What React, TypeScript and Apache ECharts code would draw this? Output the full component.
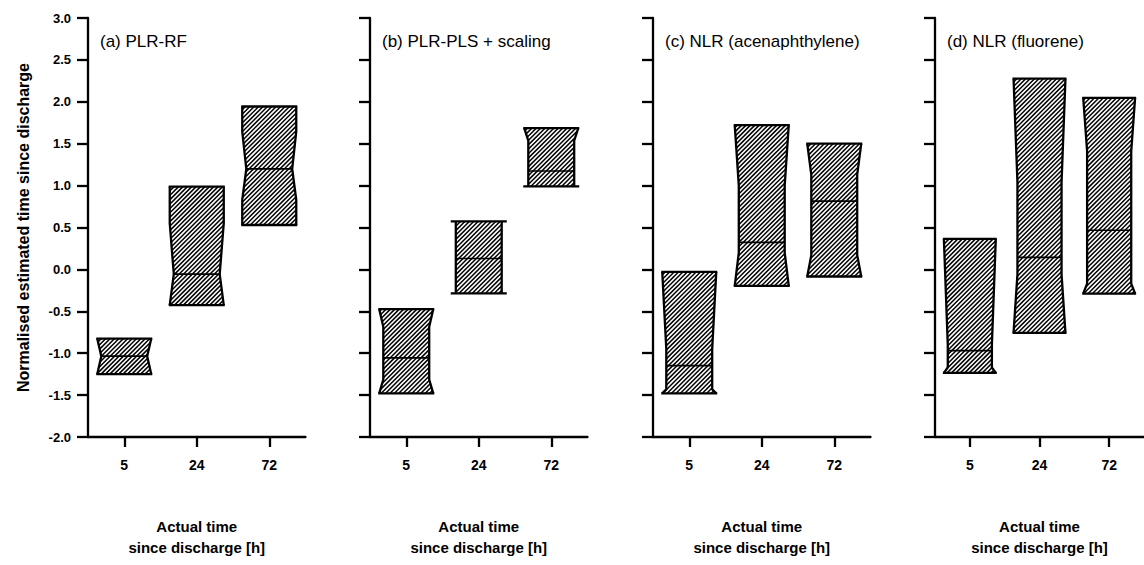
import React, { useEffect, useRef } from 'react';
import * as echarts from 'echarts';

// ---------------- data ----------------
const categories = ['5', '24', '72'];
const panelTitles = ['(a) PLR-RF', '(b) PLR-PLS + scaling', '(c) NLR (acenaphthylene)', '(d) NLR (fluorene)'];
const yAxisName = 'Normalised estimated time since discharge';
const xAxisName = 'Actual time\nsince discharge [h]';
const yMin = -2;
const yMax = 3;
const yInterval = 0.5;

// (a) PLR-RF
const upperA = [-0.825, 0.988, 1.944];
const lowerA = [-1.25, -0.426, 0.53];
const medianA = [-1.036, -0.056, 1.199];
const notchTopA = [-0.825, 0.55, 1.645];
const waistTopA = [-1.036, -0.056, 1.199];
const waistBottomA = [-1.036, -0.056, 1.199];
const notchBottomA = [-1.25, -0.426, 0.83];

// (b) PLR-PLS + scaling
const upperB = [-0.474, 0.574, 1.685];
const lowerB = [-1.48, -0.285, 0.99];
const medianB = [-1.056, 0.13, 1.174];
const notchTopB = [-0.474, 0.574, 1.685];
const waistTopB = [-0.685, 0.574, 1.537];
const waistBottomB = [-1.315, -0.285, 0.99];
const notchBottomB = [-1.48, -0.285, 0.99];

// (c) NLR (acenaphthylene)
const upperC = [-0.03, 1.722, 1.5];
const lowerC = [-1.48, -0.196, -0.085];
const medianC = [-1.148, 0.322, 0.815];
const notchTopC = [-0.03, 1.722, 1.5];
const waistTopC = [-0.95, 1.0, 1.13];
const waistBottomC = [-1.43, 0.2, 0.17];
const notchBottomC = [-1.48, -0.196, -0.085];

// (d) NLR (fluorene)
const upperD = [0.364, 2.276, 2.048];
const lowerD = [-1.235, -0.757, -0.29];
const medianD = [-0.97, 0.143, 0.467];
const notchTopD = [0.364, 2.276, 2.048];
const waistTopD = [-0.9, 1.04, 1.41];
const waistBottomD = [-1.17, -0.06, -0.17];
const notchBottomD = [-1.235, -0.757, -0.29];

const panels = [
  [upperA, lowerA, medianA, notchTopA, waistTopA, waistBottomA, notchBottomA],
  [upperB, lowerB, medianB, notchTopB, waistTopB, waistBottomB, notchBottomB],
  [upperC, lowerC, medianC, notchTopC, waistTopC, waistBottomC, notchBottomC],
  [upperD, lowerD, medianD, notchTopD, waistTopD, waistBottomD, notchBottomD],
];

// ---------------- layout / style ----------------
const AXIS_X = [88, 370, 653, 935];
const GRID_W = 217.5;
const GRID_TOP = 18;
const GRID_H = 419;
const BOX_FRAC = 0.745;
const WAIST_FRAC = 0.85;
const HATCH_STEP = 4.4;
const FONT = '"Liberation Sans", Arial, Helvetica, sans-serif';

function hatchSegments(poly: number[][], step: number) {
  let minC = Infinity;
  let maxC = -Infinity;
  for (const [x, y] of poly) {
    const c = x + y;
    if (c < minC) minC = c;
    if (c > maxC) maxC = c;
  }
  const segs: number[][] = [];
  for (let c = Math.ceil(minC / step) * step; c <= maxC; c += step) {
    const xs: number[] = [];
    for (let i = 0; i < poly.length; i++) {
      const p1 = poly[i];
      const p2 = poly[(i + 1) % poly.length];
      const s1 = p1[0] + p1[1] - c;
      const s2 = p2[0] + p2[1] - c;
      if (s1 > 0 !== s2 > 0) {
        const t = s1 / (s1 - s2);
        xs.push(p1[0] + t * (p2[0] - p1[0]));
      }
    }
    xs.sort((a, b) => a - b);
    for (let k = 0; k + 1 < xs.length; k += 2) {
      segs.push([xs[k], c - xs[k], xs[k + 1], c - xs[k + 1]]);
    }
  }
  return segs;
}

function renderBox(params: any, api: any) {
  const cat = api.value(0);
  const q3 = api.value(1);
  const q1 = api.value(2);
  const med = api.value(3);
  const nHi = api.value(4);
  const wTop = api.value(5);
  const wBot = api.value(6);
  const nLo = api.value(7);
  const cx = api.coord([cat, med])[0];
  const band = api.size([1, 0])[0];
  const full = band * BOX_FRAC;
  const inner = full * WAIST_FRAC;
  const Y = (v: number) => api.coord([cat, v])[1];
  const eps = 1e-6;

  const profile: number[][] = [
    [q3, full],
    [nHi, full],
    [wTop, inner],
    [wBot, inner],
    [nLo, full],
    [q1, full],
  ];
  let start = 0;
  for (let i = 0; i < profile.length; i++) if (Math.abs(profile[i][0] - q3) < eps) start = i;
  let end = profile.length - 1;
  for (let i = profile.length - 1; i >= 0; i--) if (Math.abs(profile[i][0] - q1) < eps) end = i;
  const side: number[][] = [];
  for (let i = start; i <= end; i++) {
    const p = profile[i];
    const last = side[side.length - 1];
    if (last && Math.abs(last[0] - p[0]) < eps && Math.abs(last[1] - p[1]) < eps) continue;
    side.push(p);
  }
  const left = side.map(([v, w]) => [cx - w / 2, Y(v)]);
  const right = side.map(([v, w]) => [cx + w / 2, Y(v)]);
  const poly = left.concat(right.slice().reverse());

  // width at median
  let wMed = full;
  for (let i = 0; i + 1 < side.length; i++) {
    const [va, wa] = side[i];
    const [vb, wb] = side[i + 1];
    if (med <= va + eps && med >= vb - eps) {
      wMed = Math.abs(va - vb) < eps ? Math.min(wa, wb) : wa + ((med - va) / (vb - va)) * (wb - wa);
      break;
    }
  }

  const children: any[] = [
    { type: 'polygon', shape: { points: poly }, style: { fill: '#fff', stroke: null } },
  ];
  for (const s of hatchSegments(poly, HATCH_STEP)) {
    children.push({
      type: 'line',
      shape: { x1: s[0], y1: s[1], x2: s[2], y2: s[3] },
      style: { stroke: '#000', lineWidth: 1.5 },
    });
  }
  const outline = { stroke: '#000', lineWidth: 2.3, fill: null, lineJoin: 'miter' };
  children.push({ type: 'polyline', shape: { points: left }, style: outline });
  children.push({ type: 'polyline', shape: { points: right }, style: outline });
  children.push({
    type: 'line',
    shape: { x1: cx - full / 2 - 1, y1: Y(q3), x2: cx + full / 2 + 1, y2: Y(q3) },
    style: { stroke: '#000', lineWidth: 2.3 },
  });
  children.push({
    type: 'line',
    shape: { x1: cx - full / 2 - 1, y1: Y(q1), x2: cx + full / 2 + 1, y2: Y(q1) },
    style: { stroke: '#000', lineWidth: 2.3 },
  });
  children.push({
    type: 'line',
    shape: { x1: cx - wMed / 2, y1: Y(med), x2: cx + wMed / 2, y2: Y(med) },
    style: { stroke: '#000', lineWidth: 1.7 },
  });
  return { type: 'group', children, silent: true };
}

function buildOption() {
  const grids = AXIS_X.map((x) => ({ left: x, top: GRID_TOP, width: GRID_W, height: GRID_H, containLabel: false }));
  const xAxes = AXIS_X.map((_, i) => ({
    gridIndex: i,
    type: 'category',
    data: categories,
    boundaryGap: true,
    axisLine: { show: true, onZero: false, lineStyle: { color: '#000', width: 2.3 } },
    axisTick: { show: true, alignWithLabel: true, length: 10, lineStyle: { color: '#000', width: 2.3 } },
    axisLabel: { show: true, color: '#000', fontWeight: 'bold', fontSize: 14, fontFamily: FONT, margin: 21 },
    splitLine: { show: false },
    name: xAxisName,
    nameLocation: 'middle',
    nameGap: 79,
    nameTextStyle: { color: '#000', fontWeight: 'bold', fontSize: 15, lineHeight: 21, fontFamily: FONT },
  }));
  const yAxes = AXIS_X.map((_, i) => ({
    gridIndex: i,
    type: 'value',
    min: yMin,
    max: yMax,
    interval: yInterval,
    axisLine: { show: true, lineStyle: { color: '#000', width: 2.3 } },
    axisTick: { show: true, length: 11, lineStyle: { color: '#000', width: 2.3 } },
    axisLabel: {
      show: i === 0,
      color: '#000',
      fontWeight: 'bold',
      fontSize: 13,
      fontFamily: FONT,
      margin: 17,
      formatter: (v: number) => v.toFixed(1),
    },
    splitLine: { show: false },
    name: i === 0 ? yAxisName : '',
    nameLocation: 'middle',
    nameRotate: 90,
    nameGap: 57,
    nameTextStyle: { color: '#000', fontWeight: 'bold', fontSize: 16, fontFamily: FONT },
  }));
  const series = panels.map((p, i) => ({
    type: 'custom',
    xAxisIndex: i,
    yAxisIndex: i,
    clip: false,
    silent: true,
    renderItem: renderBox,
    encode: { x: 0, y: [1, 2, 3] },
    data: categories.map((_, k) => [k, p[0][k], p[1][k], p[2][k], p[3][k], p[4][k], p[5][k], p[6][k]]),
  }));
  const graphic = panelTitles.map((t, i) => ({
    type: 'text',
    x: AXIS_X[i] + 12,
    y: 41,
    silent: true,
    style: { text: t, fontSize: 17, fontFamily: FONT, fill: '#000', verticalAlign: 'middle', align: 'left' },
  }));
  return {
    animation: false,
    backgroundColor: '#fff',
    textStyle: { fontFamily: FONT },
    grid: grids,
    xAxis: xAxes,
    yAxis: yAxes,
    series,
    graphic,
  };
}

export default function App() {
  const ref = useRef<HTMLDivElement>(null);
  useEffect(() => {
    if (!ref.current) return;
    const chart = echarts.init(ref.current, undefined, { renderer: 'svg' });
    chart.setOption(buildOption() as any);
    return () => chart.dispose();
  }, []);
  return <div ref={ref} style={{ position: 'absolute', left: 0, top: 0, width: 1144, height: 565, background: '#fff' }} />;
}
